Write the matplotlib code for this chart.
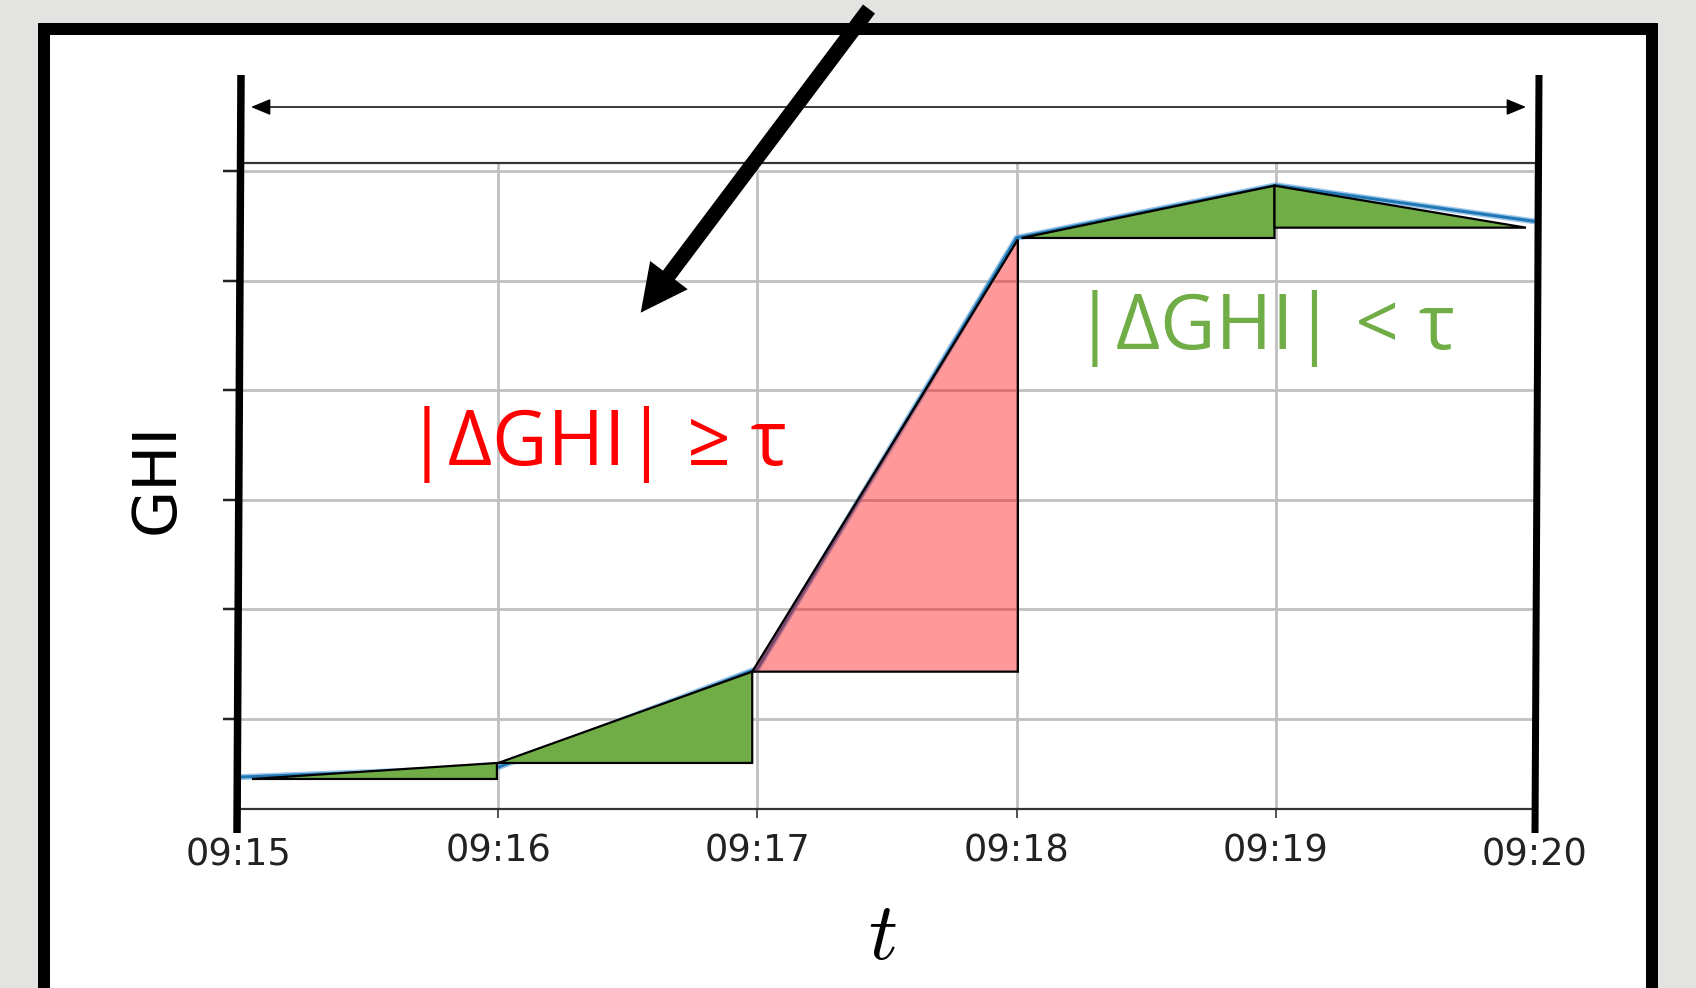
import numpy as np
import matplotlib.pyplot as plt
from matplotlib.patches import Rectangle, Polygon, FancyArrow, FancyArrowPatch
from matplotlib.transforms import blended_transform_factory

plt.rcParams['mathtext.fontset'] = 'cm'

# minutes after 09:15 and the GHI series (blue line)
t_min = [0, 1, 2, 3, 4, 5]
t_labels = ["09:15", "09:16", "09:17", "09:18", "09:19", "09:20"]
ghi = [47, 56, 146, 539, 587, 554]

# step triangles drawn over the series
step_t0 = [0.05, 1.00, 1.98, 3.02, 3.995]
step_t1 = [0.995, 1.98, 3.005, 3.995, 4.965]
step_y0 = [45.3, 59.9, 143.2, 538.9, 586.6]
step_y1 = [59.9, 143.2, 537.5, 586.6, 548.3]
step_big = [False, False, True, False, False]

y_ticks = [100, 200, 300, 400, 500, 600]

W, H = 1696, 988
px = 0.72  # points per pixel at dpi 100

fig = plt.figure(figsize=(W / 100, H / 100), dpi=100, facecolor='#e3e3e1')

# white card with black frame
bg = fig.add_axes([0, 0, 1, 1], zorder=0)
bg.set_xlim(0, W)
bg.set_ylim(H, 0)
bg.axis('off')
bg.add_patch(Rectangle((43.5, 29), 1608, 1000, facecolor='white',
                       edgecolor='black', lw=12 * px))

# main chart
ax = fig.add_axes([239 / W, (H - 809) / H, 1296 / W, 646 / H], zorder=1)
ax.set_facecolor('none')
ax.set_xlim(0, 5)
ax.set_ylim(17.9, 607.3)
ax.set_xticks(t_min)
ax.set_xticklabels([''] + t_labels[1:-1] + [''])
ax.set_yticks(y_ticks)
ax.set_yticklabels([])
ax.set_axisbelow(True)
ax.grid(True, color='#c0c0c0', lw=2.8 * px)
for s in ['left', 'right']:
    ax.spines[s].set_visible(False)
for s in ['top', 'bottom']:
    ax.spines[s].set_color('#333333')
    ax.spines[s].set_linewidth(2.2 * px)
ax.tick_params(axis='y', length=16 * px, width=2.5 * px, color='#222222')
ax.tick_params(axis='x', length=9 * px, width=2 * px, color='#555555',
               labelsize=26.5, pad=10.5, labelcolor='#222222')

trans = blended_transform_factory(ax.transData, ax.transAxes)
for i in [0, -1]:
    ax.text(t_min[i], -46 / 646, t_labels[i], transform=trans, fontsize=26.5,
            color='#222222', ha='center', va='center')

ax.plot(t_min, ghi, color='#5aa0dc', lw=6 * px, alpha=0.6, solid_capstyle='butt')
ax.plot(t_min, ghi, color='#1f77b4', lw=3 * px, solid_capstyle='butt')

for a, b, ya, yb, big in zip(step_t0, step_t1, step_y0, step_y1, step_big):
    t_hi = b if yb > ya else a
    verts = [(a, ya), (b, yb), (t_hi, min(ya, yb))]
    if big:
        ax.add_patch(Polygon(verts, closed=True, facecolor=(1, 0, 0, 0.4),
                             edgecolor='black', lw=2.2 * px, zorder=3))
    else:
        ax.add_patch(Polygon(verts, closed=True, facecolor='#70ad47',
                             edgecolor='black', lw=2.2 * px, zorder=3))

# overlay annotations in pixel coordinates
ov = fig.add_axes([0, 0, 1, 1], zorder=3)
ov.set_xlim(0, W)
ov.set_ylim(H, 0)
ov.axis('off')
ov.patch.set_alpha(0)

ov.plot([241, 237], [75, 833], color='black', lw=7.5 * px, solid_capstyle='butt')
ov.plot([1539, 1535], [75, 833], color='black', lw=7 * px, solid_capstyle='butt')

ov.add_patch(FancyArrowPatch((251, 107), (1526, 107),
                             arrowstyle='<|-|>,head_length=0.6,head_width=0.25',
                             mutation_scale=20, color='black', lw=1.5 * px,
                             shrinkA=0, shrinkB=0))

ov.add_patch(FancyArrow(869, 9, 640.7 - 869, 312.7 - 9, width=15,
                        head_width=47, head_length=47,
                        length_includes_head=True, color='black', lw=0))

fam = ['Open Sans', 'Lato', 'DejaVu Sans']
ov.text(596, 465, '|ΔGHI| ≥ τ', color='red', fontsize=55,
        family=fam, ha='center', va='baseline')
ov.text(1265, 349, '|ΔGHI| < τ', color='#70ad47', fontsize=55,
        family=fam, ha='center', va='baseline')

ov.text(157, 478, 'GHI', rotation=90, fontsize=44, ha='center', va='center')
ov.text(882, 937, '$t$', fontsize=58, ha='center', va='center')

fig.savefig('out.png', dpi=100, facecolor=fig.get_facecolor())
